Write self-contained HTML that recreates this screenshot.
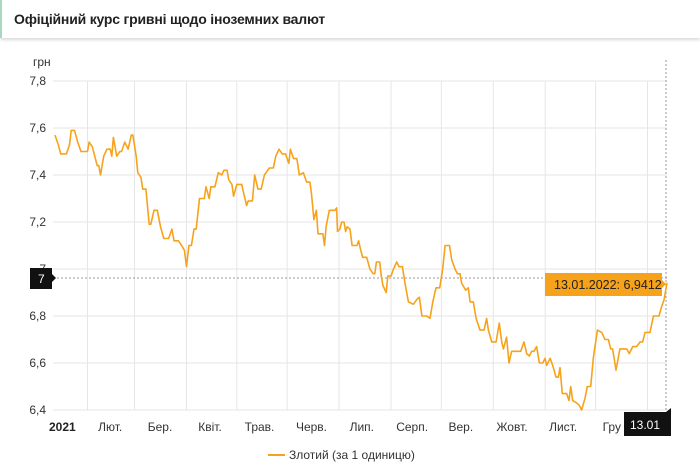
<!DOCTYPE html>
<html><head><meta charset="utf-8">
<style>
body{margin:0;background:#fff;font-family:"Liberation Sans",sans-serif;}
#wrap{position:relative;width:700px;height:471px;overflow:hidden;background:#fff;}
#title{position:absolute;left:0;top:0;width:700px;height:38px;border-left:2px solid #a8d8c0;box-shadow:0 2px 3px rgba(0,0,0,0.15);box-sizing:border-box;background:#fff;}
#title span{position:absolute;left:12px;top:11px;font-size:14px;color:#222;font-weight:bold;letter-spacing:-0.2px;}
svg{position:absolute;left:0;top:0;}
</style></head><body>
<div id="wrap">
<div id="title"><span>Офіційний курс гривні щодо іноземних валют</span></div>
<svg id="chart" width="700" height="471"></svg>
</div>
<script>
const days=[0,2,3.5,5,7,9,10,12,14,16,20,21,23,26,27,28,30,32,34,35,36,38,40,41,43,45,47,48,50,51,53,54,56,58,59,61,63,65,67,70,72,73.3,76,78,79.7,81,82.5,84,85.6,87,89,92,93,95,96,98.5,100.6,102.7,104,106,107,109,110,112,115,116,118,119,121.6,123,125,127,129,130,132,134.5,136,138,140,142,144,145,147,149,150.5,153,155,157,158,159.5,161,162,165,166,167,169,172.5,173.5,174,175.5,176.6,178,179,180,181.7,183,186,187,188,189.5,192,194,196,197,198,200,201,202,204,205,207,208.5,210.5,212,214,215.6,217.7,220.8,222.8,224.5,226,229,231,232.7,234.7,237,238.8,240.3,243,244.4,246.4,247.9,249.5,250.5,253,254.6,255.7,257.7,259.4,261.8,264.3,265.9,267,269,271.7,273.7,275.2,276.2,278.2,279.7,281.3,284,286.9,288.9,290.6,292.2,293.6,295.1,296.7,298.4,300.4,301.9,302.9,305,306.6,308.6,310.1,311.1,312.5,315.2,316.6,317.7,318.9,321.4,323,324.4,326.5,327.9,330,331.6,334.1,336.8,338.8,340.9,342.3,343.5,345.6,348,350.1,352.2,353.8,355.9,358.3,360.4,362,363.5,366.5,368.6,372.1,373.7,375.2,377];
const rates=[7.57,7.53,7.49,7.49,7.49,7.53,7.59,7.59,7.54,7.50,7.50,7.54,7.52,7.44,7.44,7.40,7.48,7.51,7.51,7.48,7.56,7.48,7.50,7.50,7.54,7.51,7.57,7.57,7.48,7.41,7.39,7.34,7.34,7.19,7.19,7.25,7.25,7.18,7.13,7.13,7.17,7.12,7.12,7.10,7.08,7.01,7.10,7.10,7.17,7.17,7.30,7.30,7.35,7.30,7.35,7.35,7.41,7.40,7.42,7.42,7.38,7.36,7.31,7.36,7.36,7.33,7.27,7.29,7.29,7.40,7.34,7.34,7.40,7.41,7.43,7.43,7.48,7.51,7.49,7.49,7.45,7.51,7.47,7.47,7.40,7.41,7.37,7.37,7.32,7.21,7.25,7.15,7.15,7.10,7.18,7.25,7.25,7.26,7.16,7.17,7.20,7.20,7.16,7.18,7.17,7.10,7.10,7.12,7.09,7.05,7.05,7.00,6.98,6.98,7.03,7.03,6.97,6.93,6.90,6.97,6.97,7.00,7.03,7.01,7.01,6.94,6.86,6.85,6.87,6.88,6.80,6.80,6.79,6.86,6.92,6.92,7.00,7.10,7.10,7.04,7.00,6.98,6.98,6.94,6.91,6.92,6.86,6.86,6.79,6.74,6.74,6.79,6.74,6.69,6.69,6.77,6.69,6.66,6.71,6.60,6.65,6.65,6.65,6.69,6.64,6.63,6.65,6.65,6.67,6.60,6.60,6.62,6.59,6.62,6.59,6.54,6.54,6.58,6.47,6.47,6.44,6.50,6.44,6.43,6.42,6.40,6.45,6.50,6.50,6.62,6.74,6.73,6.70,6.70,6.66,6.66,6.57,6.66,6.66,6.66,6.64,6.67,6.67,6.69,6.69,6.73,6.73,6.80,6.80,6.84,6.87,6.9412];
const yTicks=[6.4,6.6,6.8,7.0,7.2,7.4,7.6,7.8];
const yTickLabels=["6,4","6,6","6,8","7","7,2","7,4","7,6","7,8"];
const gridDays=[20,49,81,112,143,175,207,238,270,302,333,365];
const monthDays=[3,34,64.7,95.5,126,158,189,220,250,281.5,313,343];
const monthLabels=["2021","Лют.","Бер.","Квіт.","Трав.","Черв.","Лип.","Серп.","Вер.","Жовт.","Лист.","Гру"];

const X0=55,X1=667,Y0=410,Y1=81;
const xS=d=>X0+d*(X1-X0)/377;
const yS=v=>Y0-(v-6.4)*(Y0-Y1)/1.4;
const svg=document.getElementById('chart');
const NS='http://www.w3.org/2000/svg';
function mk(t,a,txt){const e=document.createElementNS(NS,t);for(const k in a)e.setAttribute(k,a[k]);if(txt!==undefined)e.textContent=txt;svg.appendChild(e);return e;}

gridDays.forEach(d=>{
 const l=mk('line',{x1:xS(d),x2:xS(d),y1:Y1,y2:Y0,stroke:'#e6e6e6','stroke-width':1});
 
 
});
yTicks.forEach((v,i)=>{
 const l=mk('line',{x1:53,x2:X1,y1:yS(v),y2:yS(v),stroke:'#e6e6e6','stroke-width':1});
 
 
 const t=mk('text',{x:46,y:yS(v)+4,'text-anchor':'end','font-size':12,fill:'#333'},yTickLabels[i]);
 
 
});
const unit=mk('text',{x:33,y:66,'font-size':12,fill:'#333'},'грн');



monthDays.forEach((d,i)=>{
 const t=mk('text',{x:xS(d)+(i==0?0:0),y:431,'text-anchor':i==0?'start':'middle','font-size':12,fill:i==0?'#222':'#333','font-weight':i==0?'bold':'normal'},monthLabels[i]);
 if(i==0)t.setAttribute('x',49);
 
 
});

// crosshair
const ch=mk('line',{x1:53,x2:X1,y1:278,y2:278,stroke:'#999','stroke-dasharray':'2,2','stroke-width':1});


const cv=mk('line',{x1:666,x2:666,y1:60,y2:Y0,stroke:'#999','stroke-dasharray':'2,2','stroke-width':1});



const pts=days.map((d,i)=>xS(d).toFixed(1)+','+yS(rates[i]).toFixed(1)).join(' ');
const pl=mk('polyline',{points:pts,fill:'none',stroke:'#f7a21b','stroke-width':1.6,'stroke-linejoin':'round'});



// y crosshair label
const yl=mk('path',{d:'M30,268 H52 V274 L56,278 L52,282 V289 H30 Z',fill:'#111'});


const ylt=mk('text',{x:38,y:283,'font-size':12,fill:'#fff'},'7');



// x crosshair label
const xl=mk('path',{d:'M624,412 H666 L671,408 V436 H624 Z',fill:'#111'});


const xlt=mk('text',{x:630,y:429,'font-size':12,fill:'#fff'},'13.01');



// tooltip
const tb=mk('path',{d:'M545,273 H662 V280 L666,284 L662,288 V296 H545 Z',fill:'#f7a21b'});


const tt=mk('text',{x:554,y:289,'font-size':12.5,fill:'#222'},'13.01.2022: 6,9412');



// legend
const lg=mk('line',{x1:268,x2:285,y1:455,y2:455,stroke:'#f7a21b','stroke-width':2});


const lt=mk('text',{x:289,y:459,'font-size':12,fill:'#333'},'Злотий (за 1 одиницю)');


</script>
</body></html>
